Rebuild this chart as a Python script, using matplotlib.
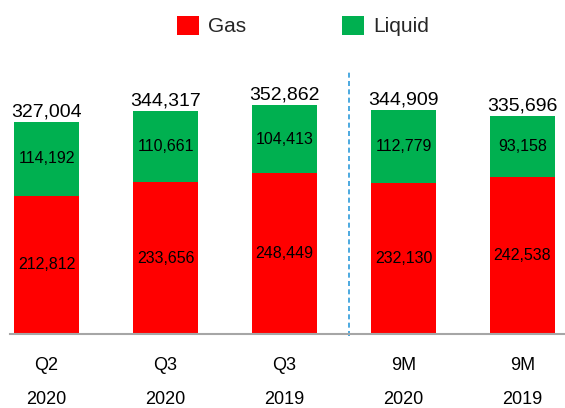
import matplotlib.pyplot as plt
import matplotlib.transforms as mtransforms
import numpy as np

plt.rcParams['font.family'] = ['Liberation Sans', 'DejaVu Sans']

periods = ['Q2', 'Q3', 'Q3', '9M', '9M']
years = ['2020', '2020', '2019', '2020', '2019']
gas = [212812, 233656, 248449, 232130, 242538]
liquid = [114192, 110661, 104413, 112779, 93158]
totals = [327004, 344317, 352862, 344909, 335696]

red = '#FF0000'
green = '#00B050'

fig = plt.figure(figsize=(5.65, 4.08), dpi=100)
ax = fig.add_axes([10/565, 74/408, 555/565, (334-60)/408])

x = np.arange(len(gas))
ax.bar(x, gas, width=0.546, color=red, label='Gas')
ax.bar(x, liquid, width=0.546, bottom=gas, color=green, label='Liquid')

for i in x:
    ax.text(i, gas[i] / 2, f'{gas[i]:,}', ha='center', va='center', fontsize=11.5)
    ax.text(i, gas[i] + liquid[i] / 2, f'{liquid[i]:,}', ha='center', va='center', fontsize=11.5)
    ax.text(i, totals[i] + 2500, f'{totals[i]:,}', ha='center', va='bottom', fontsize=14)

# separator between quarters and nine months
ax.plot([2.542, 2.542], [-3000, 405500], color='#2E9BDA', lw=1.2, ls=(0, (3, 2)), clip_on=False)

ax.set_xlim(-0.307, 4.357)
ax.set_ylim(0, 422500)
for s in ['top', 'right', 'left']:
    ax.spines[s].set_visible(False)
ax.spines['bottom'].set_color('#A6A6A6')
ax.spines['bottom'].set_linewidth(1.5)
ax.set_yticks([])
ax.set_xticks([])

trans = mtransforms.blended_transform_factory(ax.transData, fig.transFigure)
for i in x:
    ax.text(i, 1 - 366/408, periods[i], ha='center', va='center', fontsize=13, transform=trans)
    ax.text(i, 1 - 400/408, years[i], ha='center', va='center', fontsize=13, transform=trans)

leg = fig.legend(loc='center', bbox_to_anchor=(303/565, 1 - 26/408), ncol=2, frameon=False,
                 fontsize=15, handlelength=1.05, handleheight=1.05, columnspacing=4.6,
                 handletextpad=0.45, labelcolor='#262626')

fig.savefig('out.png', dpi=100)
